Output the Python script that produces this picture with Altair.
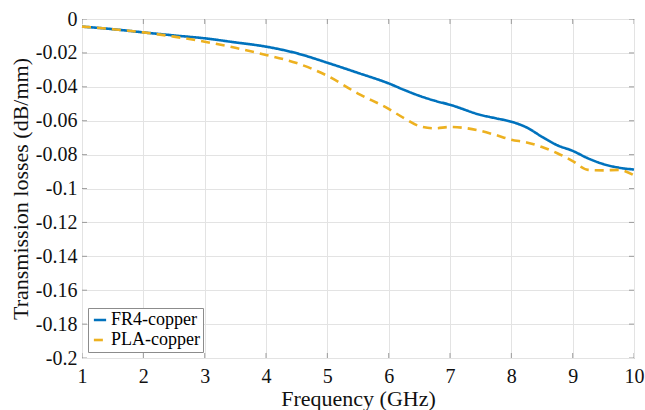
import altair as alt
import pandas as pd

freq = [1, 1.5, 2, 2.5, 3, 3.5, 4, 4.5, 5, 5.5, 6, 6.25, 6.5, 6.75, 7, 7.5, 7.75, 8, 8.25, 8.5, 8.75, 9, 9.25, 9.5, 9.75, 10]
fr4 = [-0.0045, -0.0060, -0.0079, -0.0097, -0.0114, -0.0138, -0.0163, -0.0202, -0.0258, -0.0318, -0.0380, -0.0418,
       -0.0453, -0.0482, -0.0506, -0.0566, -0.0586, -0.0606, -0.0640, -0.0695, -0.0745, -0.0778, -0.0822, -0.0856,
       -0.0877, -0.0888]
pla = [-0.0045, -0.0060, -0.0079, -0.0104, -0.0134, -0.0170, -0.0212, -0.0260, -0.0335, -0.0440, -0.0530, -0.0585,
       -0.0632, -0.0645, -0.0637, -0.0660, -0.0685, -0.0712, -0.0728, -0.0755, -0.0792, -0.0838, -0.0890, -0.0893,
       -0.0890, -0.0922]
series_names = ["FR4-copper", "PLA-copper"]
series_colors = ["#0072BD", "#EDB120"]
x_ticks = [1, 2, 3, 4, 5, 6, 7, 8, 9, 10]
y_ticks = [0, -0.02, -0.04, -0.06, -0.08, -0.1, -0.12, -0.14, -0.16, -0.18, -0.2]

rows = []
for f, a, b in zip(freq, fr4, pla):
    rows.append({"f": f, "v": a, "s": series_names[0]})
    rows.append({"f": f, "v": b, "s": series_names[1]})
df = pd.DataFrame(rows)

FONT = "Liberation Serif"

xscale = alt.Scale(domain=[1, 10], nice=False)
yscale = alt.Scale(domain=[-0.2, 0], nice=False)

x_axis = alt.Axis(title="Frequency (GHz)", values=x_ticks, grid=True, tickSize=0, domain=False,
                  labelPadding=8, titlePadding=2, labelOverlap=False, format="d", labelFlush=False,
                  labelFont=FONT, labelFontSize=20, titleFont=FONT, titleFontSize=22,
                  titleFontWeight="normal", labelColor="#111111", titleColor="#111111")
y_axis = alt.Axis(title="Transmission losses (dB/mm)", values=y_ticks, grid=True, tickSize=0,
                  domain=False, labelPadding=5, titlePadding=3, labelOverlap=False, labelFlush=False,
                  labelFont=FONT, labelFontSize=20, titleFont=FONT, titleFontSize=22,
                  titleFontWeight="normal", labelColor="#111111", titleColor="#111111",
                  labelExpr="replace(format(datum.value, '.2~f'), '\u2212', '-')")

lines = alt.Chart(df).mark_line(strokeWidth=2.6, interpolate="monotone").encode(
    x=alt.X("f:Q", scale=xscale, axis=x_axis, title="Frequency (GHz)"),
    y=alt.Y("v:Q", scale=yscale, axis=y_axis, title="Transmission losses (dB/mm)"),
    color=alt.Color("s:N", scale=alt.Scale(domain=series_names, range=series_colors),
                    legend=alt.Legend(title=None, orient="bottom-left", offset=6,
                                      symbolType="stroke", symbolSize=150, symbolStrokeWidth=2.6,
                                      strokeColor="#8c8c8c", fillColor="white", padding=3,
                                      labelFont=FONT, labelFontSize=18, labelColor="#000000",
                                      rowPadding=2, labelOffset=2)),
    strokeDash=alt.StrokeDash("s:N", scale=alt.Scale(domain=series_names, range=[[1, 0], [9, 6]]),
                              legend=None),
)

xt = pd.DataFrame({"f": x_ticks})
yt = pd.DataFrame({"v": y_ticks})
tick_color = "#7a7a7a"
xtick_bottom = alt.Chart(xt).mark_tick(size=10, thickness=1, color=tick_color, clip=True).encode(
    x=alt.X("f:Q", scale=xscale, axis=None), y=alt.value(339))
xtick_top = alt.Chart(xt).mark_tick(size=10, thickness=1, color=tick_color, clip=True).encode(
    x=alt.X("f:Q", scale=xscale, axis=None), y=alt.value(0))
ytick_left = alt.Chart(yt).mark_tick(size=10, thickness=1, color=tick_color, clip=True).encode(
    y=alt.Y("v:Q", scale=yscale, axis=None), x=alt.value(0))
ytick_right = alt.Chart(yt).mark_tick(size=10, thickness=1, color=tick_color, clip=True).encode(
    y=alt.Y("v:Q", scale=yscale, axis=None), x=alt.value(552))

chart = alt.layer(lines, xtick_bottom, xtick_top, ytick_left, ytick_right).resolve_axis(
    x="independent", y="independent"
).properties(
    width=552, height=339,
    autosize=alt.AutoSizeParams(type="none"),
    padding={"left": 82, "top": 19, "right": 11, "bottom": 52},
    background="white",
).configure(
    font=FONT,
    view={"stroke": "#8a8a8a", "strokeWidth": 1},
    axis={"gridColor": "#e3e3e3", "gridWidth": 1, "labelFont": FONT, "titleFont": FONT},
    style={"guide-label": {"font": FONT}, "guide-title": {"font": FONT}},
)

chart.save("out.html", embed_options={"renderer": "svg", "actions": False})
